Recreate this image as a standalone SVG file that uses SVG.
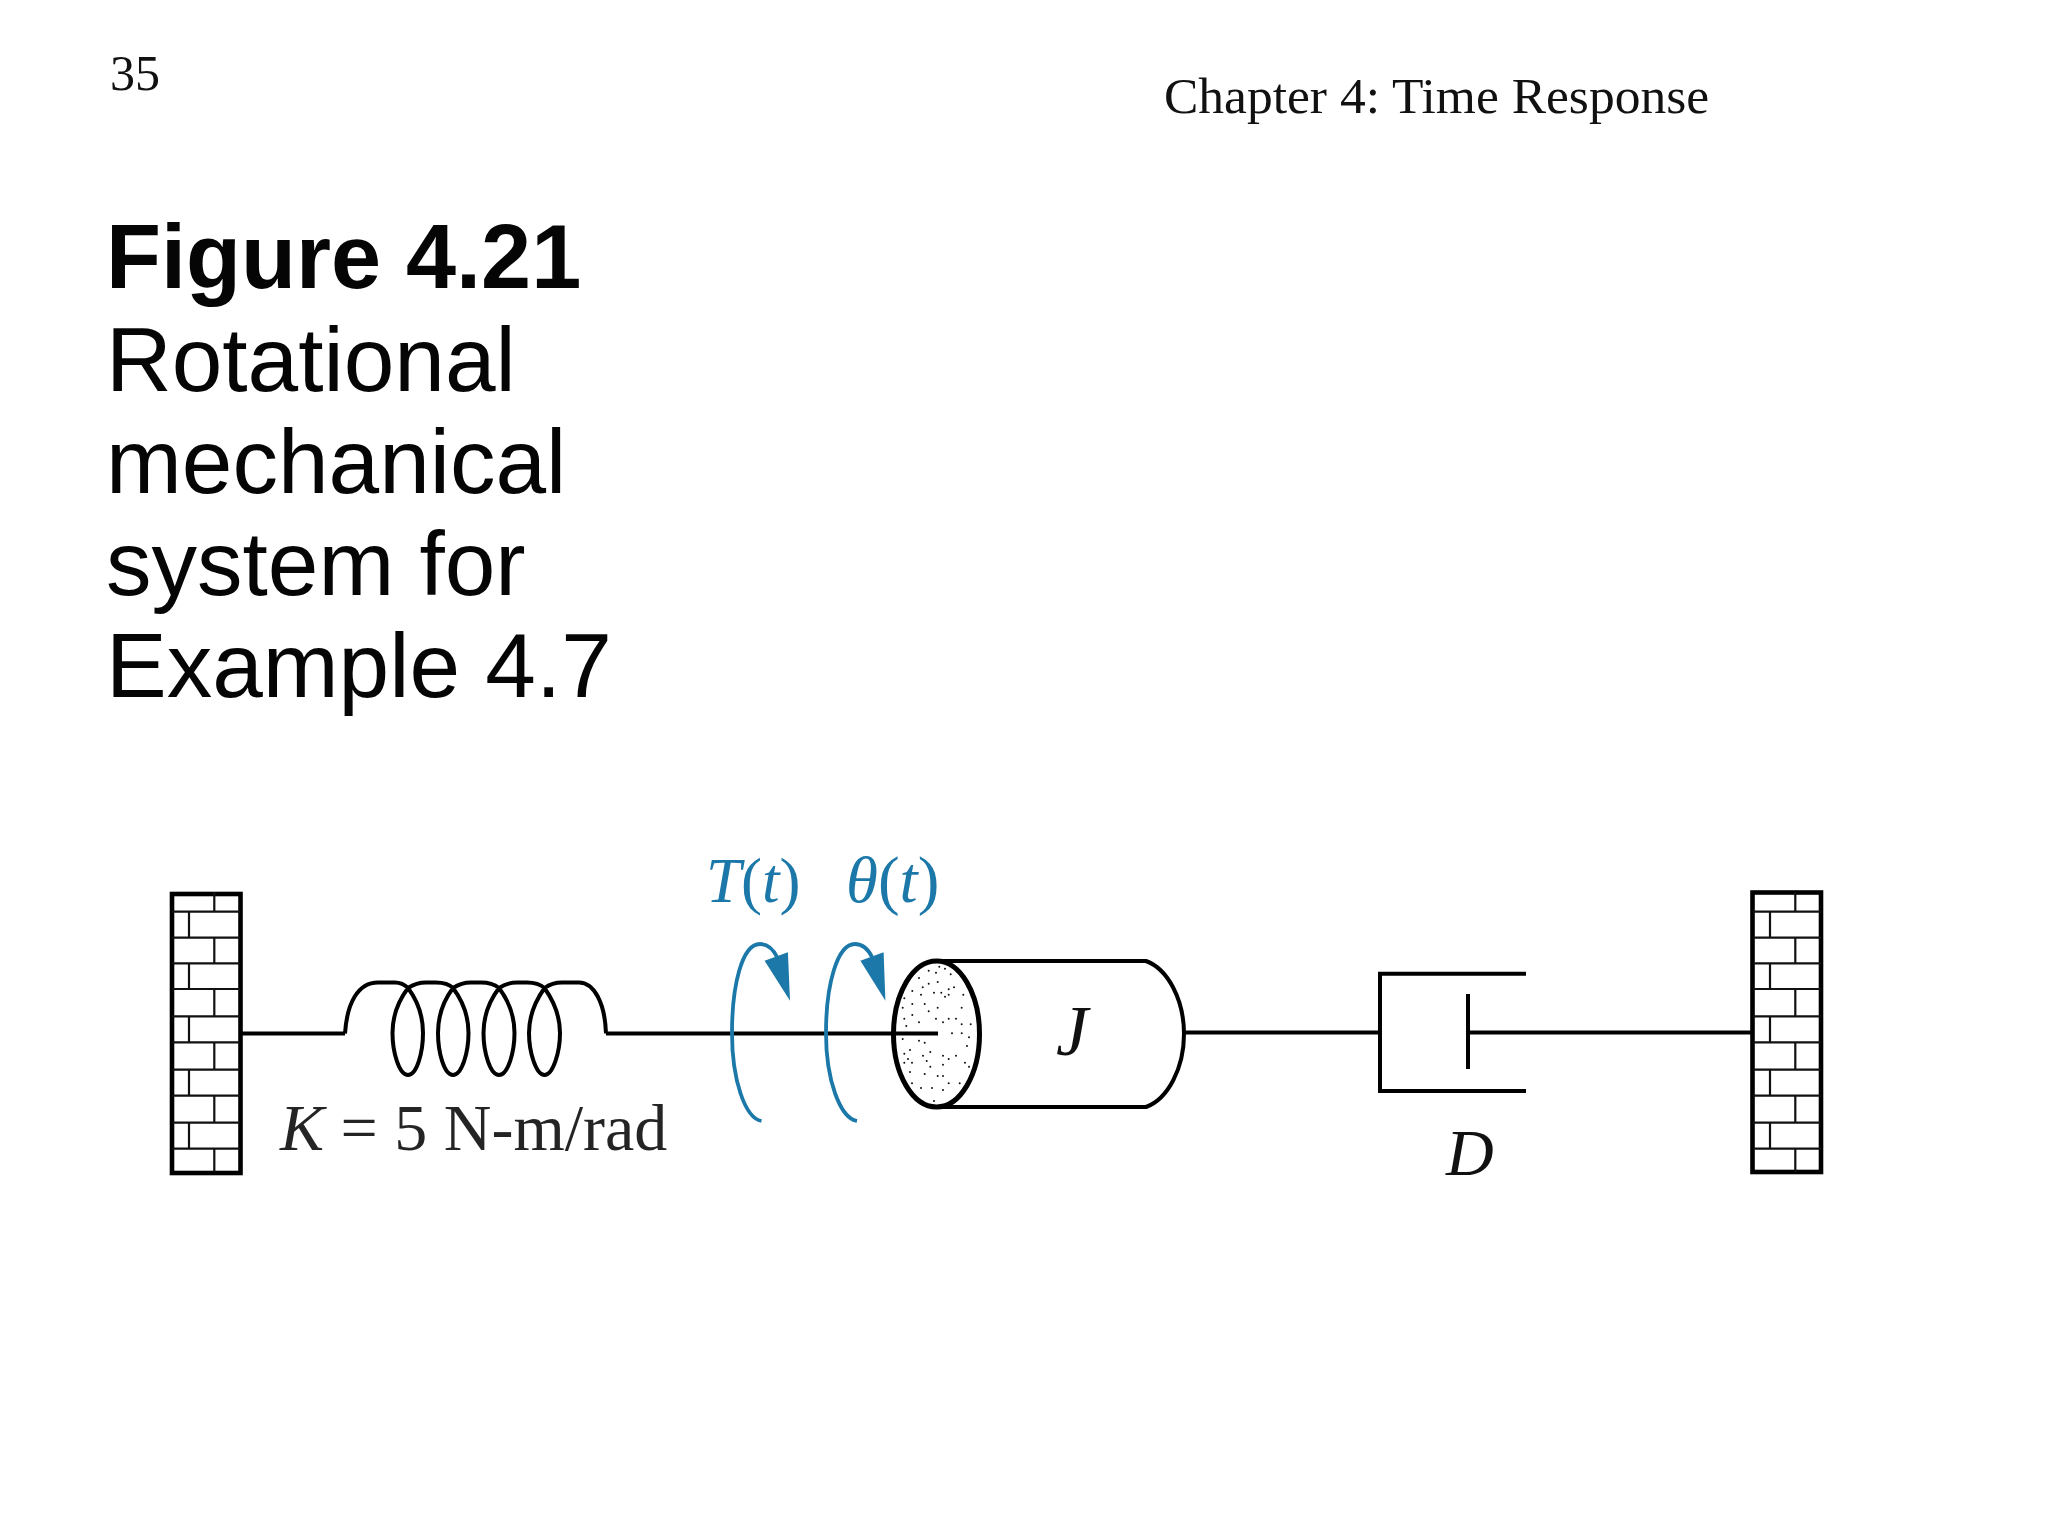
<svg xmlns="http://www.w3.org/2000/svg" xmlns:xlink="http://www.w3.org/1999/xlink" width="2048" height="1536" viewBox="0 0 2048 1536">
<style>
.s{font-family:"Liberation Serif","Times New Roman",serif;fill:#111}
.t{font-family:"Liberation Sans",Arial,sans-serif;font-size:91px;fill:#050505}
.i{font-style:italic}
.b{fill:#1b78a8}
.w{fill:#fff;stroke:#000;stroke-width:4.600}
.br{fill:none;stroke:#111;stroke-width:2.200}
.l{fill:none;stroke:#000;stroke-width:4}
.a{fill:none;stroke:#1b78a8;stroke-width:3.800}
</style>
<defs>
<path id="bricks" class="br" d="M0 19.7H68M0 45.7H68M0 71.3H68M0 97H68M0 124.3H68M0 150.3H68M0 177.7H68M0 203.7H68M0 230.7H68M0 256.7H68M42.3 0V19.7M42.3 45.7V71.3M42.3 97V124.3M42.3 150.3V177.7M42.3 203.7V230.7M42.3 256.7V280M17 19.7V45.7M17 71.3V97M17 124.3V150.3M17 177.7V203.7M17 230.7V256.7"/>
</defs>
<rect width="2048" height="1536" fill="#fff"/>
<text id="page" class="s" x="110" y="90" font-size="50">35</text>
<text id="chapter" class="s" x="1164" y="113" font-size="51.500">Chapter 4: Time Response</text>
<g id="title">
<text class="t" x="106" y="288" font-weight="bold" style="font-size:90px">Figure 4.21</text>
<text class="t" x="106" y="391">Rotational</text>
<text class="t" x="106" y="493">mechanical</text>
<text class="t" x="106" y="595">system for</text>
<text class="t" x="106" y="697">Example 4.7</text>
</g>
<g id="wall-left">
<rect class="w" x="172" y="894" width="68.500" height="279"/>
<use xlink:href="#bricks" href="#bricks" x="172" y="892"/>
</g>
<g id="wall-right">
<rect class="w" x="1752.500" y="892.500" width="68.500" height="279.500"/>
<use xlink:href="#bricks" href="#bricks" x="1753" y="892"/>
</g>
<g id="connectors">
<path class="l" d="M241 1033.500H345M606 1033.500H937"/>
<path class="l" d="M1185 1032.500H1380M1468 1032.500H1753"/>
</g>
<g id="spring">
<path class="l" d="M345 1033.500C347 1003 358 982.500 378 982.500H395C400 982.500 405 985 408 988C417 1000 423 1016 423 1033C423 1052 417 1075 408 1075C399 1075 392.500 1052 392.500 1033C392.500 1016 399 1000 408 988C414 984 420 982.500 426 982.500H436C442 982.500 449 984 453 988C462 1000 468.500 1016 468.500 1033C468.500 1052 462 1075 453 1075C444 1075 438 1052 438 1033C438 1016 444 1000 453 988C459 984 465 982.500 471 982.500H481C487 982.500 494 984 499 988C508 1000 514.500 1016 514.500 1033C514.500 1052 508 1075 499 1075C490 1075 483.500 1052 483.500 1033C483.500 1016 490 1000 499 988C505 984 511 982.500 517 982.500H527C533 982.500 540 984 544.500 988C553 1000 560 1016 560 1033C560 1052 553 1075 544.500 1075C536 1075 529 1052 529 1033C529 1016 536 1000 544.500 988C550 984 556 982.500 562 982.500H579C594 982.500 605 1003 606 1033.500"/>
</g>
<text id="k-label" class="s" x="280" y="1150" font-size="66" fill-opacity=".92"><tspan class="i">K</tspan> = 5 N-m/rad</text>
<g id="torque">
<path class="a" d="M761.500 1121C745 1118 732 1080 732 1033C732 985 742 944 760 944C767 944 773 949 777 957"/>
<polygon class="b" points="764.600,960.700 787.900,952.300 790,1000.700"/>
<text class="s b" x="706" y="902" font-size="63" style="fill:#1b78a8"><tspan class="i">T</tspan>(<tspan class="i">t</tspan>)</text>
</g>
<g id="angle">
<path class="a" d="M857 1121C840 1118 826 1080 826 1033C826 985 837 944 855 944C862 944 868 949 872 957"/>
<polygon class="b" points="860.400,960.700 883.600,952.300 885.400,1000.700"/>
<text class="s b" x="846" y="902" font-size="65" style="fill:#1b78a8"><tspan class="i">θ</tspan>(<tspan class="i">t</tspan>)</text>
</g>
<g id="inertia">
<path d="M936 961H1146C1168 969 1184 1000 1184 1034C1184 1068 1168 1099 1146 1107H936" fill="none" stroke="#000" stroke-width="4"/>
<ellipse cx="936.500" cy="1034" rx="43" ry="73" fill="#fff" stroke="#000" stroke-width="5"/>
<path fill="none" stroke="#111" stroke-width="2" stroke-linecap="round" d="M928.700 970.700h0M936 972.700h0M939.300 966.700h0M945 968.700h0M950.700 974.300h0M919 978h0M937.700 982h0M928.700 983.700h0M922.700 987.300h0M954 987.300h0M948.700 989.300h0M912.300 991h0M921 994.700h0M934 992.700h0M941.300 992.700h0M948.700 994.700h0M945 996.700h0M963.300 994.700h0M904.300 998.300h0M912.300 1004h0M924.700 1004h0M902.700 1007.700h0M937.700 1007.700h0M928.700 1011.300h0M961.700 1007.700h0M912.300 1015h0M904.300 1018.700h0M936 1018.700h0M948.700 1018.700h0M956 1018.700h0M919 1022.300h0M943 1022.300h0M961.700 1024.300h0M970.700 1024.300h0M906.300 1026h0M952 1033.300h0M961.700 1033.300h0M969 1037.300h0M902.700 1039h0M919 1040.700h0M924.700 1042.700h0M967 1046h0M910 1050h0M904.300 1053.700h0M930.300 1052h0M923 1055.700h0M943 1055.700h0M956 1055.700h0M908 1059h0M948.700 1059h0M926.700 1061h0M904.300 1062.700h0M912 1062.700h0M943 1064.700h0M965 1062.700h0M930.300 1066.700h0M969 1066.700h0M910 1072h0M924.700 1074h0M937.700 1076h0M943 1076h0M912 1083.300h0M948.700 1083.300h0M959.700 1083.300h0M921 1088h0M932 1088h0M943 1090h0M934 1101h0"/>
<path class="l" d="M892 1033.500H938"/>
<text class="s i" x="1056" y="1055" font-size="72">J</text>
</g>
<g id="damper">
<path class="l" d="M1526 973.700H1380V1091H1526M1468 994V1069"/>
<text class="s i" x="1446" y="1175" font-size="66">D</text>
</g>
</svg>
